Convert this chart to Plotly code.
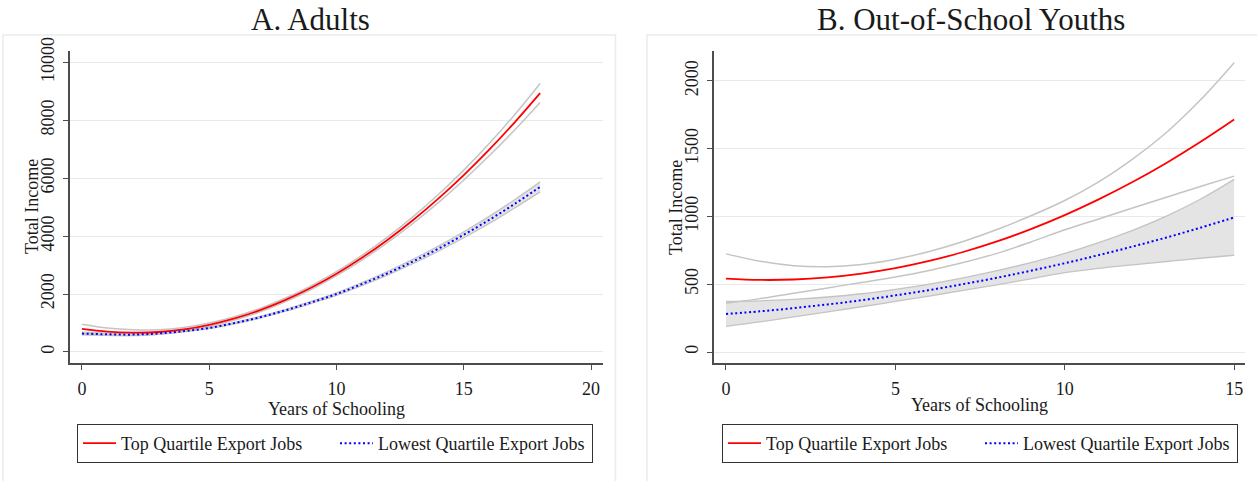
import plotly.graph_objects as go

# ---------------- data ----------------
# Panel A: Adults
years_a = [0, 1, 2, 3, 4, 5, 6, 7, 8, 9, 10, 11, 12, 13, 14, 15, 16, 17, 18]
top_a = [800, 705, 670, 690, 780, 940, 1160, 1446, 1800, 2220, 2704, 3254, 3869, 4550, 5296, 6108, 6985, 7927, 8934]
top_a_hi = [960, 825, 765, 765, 845, 1000, 1220, 1506, 1862, 2285, 2774, 3334, 3964, 4665, 5436, 6278, 7195, 8192, 9270]
top_a_lo = [640, 585, 575, 615, 715, 880, 1100, 1386, 1738, 2155, 2634, 3174, 3774, 4435, 5156, 5938, 6775, 7662, 8612]
low_a = [636, 611, 600, 640, 720, 830, 1000, 1200, 1440, 1710, 2000, 2345, 2716, 3123, 3566, 4046, 4561, 5113, 5700]
low_a_hi = [684, 651, 633, 668, 746, 855, 1026, 1228, 1472, 1747, 2044, 2397, 2778, 3197, 3654, 4150, 4683, 5256, 5873]
low_a_lo = [590, 571, 567, 612, 694, 805, 974, 1172, 1408, 1673, 1956, 2293, 2654, 3049, 3478, 3942, 4439, 4970, 5526]

# Panel B: Out-of-School Youths
years_b = [0, 1, 2, 3, 4, 5, 6, 7, 8, 9, 10, 11, 12, 13, 14, 15]
top_b = [542, 532, 535, 551, 579, 619, 672, 738, 816, 907, 1010, 1126, 1254, 1395, 1549, 1715]
top_b_hi = [724, 670, 637, 629, 645, 684, 742, 816, 904, 1005, 1118, 1256, 1424, 1620, 1859, 2135]
top_b_lo = [360, 394, 433, 473, 513, 554, 602, 660, 728, 812, 902, 982, 1062, 1142, 1221, 1298]
low_b = [281, 300, 324, 351, 382, 418, 457, 501, 548, 600, 655, 715, 778, 845, 917, 993]
low_b_hi = [373, 378, 389, 406, 430, 463, 501, 547, 600, 660, 727, 807, 898, 1003, 1127, 1274]
low_b_lo = [189, 222, 259, 296, 334, 373, 413, 455, 496, 540, 586, 617, 643, 668, 692, 714]

ticks_x_a = [0, 5, 10, 15, 20]
ticks_y_a = [0, 2000, 4000, 6000, 8000, 10000]
ticks_x_b = [0, 5, 10, 15]
ticks_y_b = [0, 500, 1000, 1500, 2000]

legend_top = "Top Quartile Export Jobs"
legend_low = "Lowest Quartile Export Jobs"
title_a = "A. Adults"
title_b = "B. Out-of-School Youths"
x_title = "Years of Schooling"
y_title = "Total Income"

# ---------------- styling ----------------
W, H = 1257, 481
FONT = "Liberation Serif"
TXT = "#1a1a1a"
CI_LINE = "#c4c4c4"
CI_FILL = "#e4e4e4"
RED = "#ff0000"
BLUE = "#0000ff"


def px_x(p):
    return p / W


def px_y(p):
    return 1 - p / H


fig = go.Figure()


def add_panel(xs, top, top_hi, top_lo, low, low_hi, low_lo, xa, ya, legend_name):
    # lowest quartile CI band (filled)
    fig.add_trace(go.Scatter(x=xs, y=low_hi, mode="lines", line=dict(color=CI_LINE, width=1.3, shape="spline"),
                             xaxis=xa, yaxis=ya, showlegend=False, hoverinfo="skip"))
    fig.add_trace(go.Scatter(x=xs, y=low_lo, mode="lines", line=dict(color=CI_LINE, width=1.3, shape="spline"),
                             fill="tonexty", fillcolor=CI_FILL,
                             xaxis=xa, yaxis=ya, showlegend=False, hoverinfo="skip"))
    # top quartile CI (lines only)
    fig.add_trace(go.Scatter(x=xs, y=top_hi, mode="lines", line=dict(color=CI_LINE, width=1.5, shape="spline"),
                             xaxis=xa, yaxis=ya, showlegend=False, hoverinfo="skip"))
    fig.add_trace(go.Scatter(x=xs, y=top_lo, mode="lines", line=dict(color=CI_LINE, width=1.5, shape="spline"),
                             xaxis=xa, yaxis=ya, showlegend=False, hoverinfo="skip"))
    # fitted lines
    fig.add_trace(go.Scatter(x=xs, y=top, mode="lines", name=legend_top,
                             line=dict(color=RED, width=1.8, shape="spline"),
                             xaxis=xa, yaxis=ya, legend=legend_name))
    fig.add_trace(go.Scatter(x=xs, y=low, mode="lines", name=legend_low,
                             line=dict(color=BLUE, width=2, dash="2px,2.6px", shape="spline"),
                             xaxis=xa, yaxis=ya, legend=legend_name))


add_panel(years_a, top_a, top_a_hi, top_a_lo, low_a, low_a_hi, low_a_lo, "x", "y", "legend")
add_panel(years_b, top_b, top_b_hi, top_b_lo, low_b, low_b_hi, low_b_lo, "x2", "y2", "legend2")

axis_common = dict(
    showline=True, linecolor="#4d4d4d", linewidth=1.5, mirror=False,
    ticks="outside", ticklen=5, tickwidth=1.3, tickcolor="#4d4d4d",
    tickfont=dict(family=FONT, size=18, color=TXT),
    zeroline=False, tickformat="d", automargin=False,
)

y_dom = [px_y(363), px_y(51)]

legend_common = dict(
    orientation="h", xanchor="center", y=px_y(424), yanchor="top",
    bordercolor="#333333", borderwidth=1, bgcolor="white",
    font=dict(family=FONT, size=18, color=TXT), entrywidth=209,
    itemwidth=33, traceorder="normal",
)

fig.update_layout(
    width=W, height=H,
    margin=dict(l=0, r=0, t=0, b=0, autoexpand=False),
    paper_bgcolor="white", plot_bgcolor="white",
    font=dict(family=FONT, size=18, color=TXT),
    xaxis=dict(domain=[px_x(70), px_x(603)], range=[-0.47, 20.47], tickvals=ticks_x_a,
               showgrid=False, anchor="y", ticklabelstandoff=4,
               title=dict(text=x_title, font=dict(family=FONT, size=18, color=TXT), standoff=0),
               **axis_common),
    yaxis=dict(domain=y_dom, range=[-380, 10390], tickvals=ticks_y_a,
               showgrid=True, gridcolor="#e9e9e9", gridwidth=1.3, tickangle=-90, anchor="x",
               ticklabelstandoff=2, **axis_common),
    xaxis2=dict(domain=[px_x(714), px_x(1245)], range=[-0.354, 15.32], tickvals=ticks_x_b,
                showgrid=False, anchor="y2", ticklabelstandoff=4,
                title=dict(text=x_title, font=dict(family=FONT, size=18, color=TXT), standoff=0),
                **axis_common),
    yaxis2=dict(domain=y_dom, range=[-81, 2221], tickvals=ticks_y_b,
                showgrid=True, gridcolor="#e9e9e9", gridwidth=1.3, tickangle=-90, anchor="x2",
                ticklabelstandoff=2, **axis_common),
    legend=dict(x=px_x(335), **legend_common),
    legend2=dict(x=px_x(980), **legend_common),
    shapes=[
        dict(type="rect", xref="paper", yref="paper", x0=px_x(3), x1=px_x(615.5), y0=px_y(490), y1=px_y(35),
             line=dict(color="#ebebeb", width=1.5), fillcolor="rgba(0,0,0,0)", layer="below"),
        dict(type="rect", xref="paper", yref="paper", x0=px_x(647), x1=px_x(1268), y0=px_y(490), y1=px_y(35),
             line=dict(color="#ebebeb", width=1.5), fillcolor="rgba(0,0,0,0)", layer="below"),
    ],
    annotations=[
        dict(text=title_a, x=px_x(310), y=1, xref="paper", yref="paper",
             xanchor="center", yanchor="top", showarrow=False,
             font=dict(family=FONT, size=31, color=TXT)),
        dict(text=title_b, x=px_x(971), y=1, xref="paper", yref="paper",
             xanchor="center", yanchor="top", showarrow=False,
             font=dict(family=FONT, size=31, color=TXT)),
        dict(text=y_title, x=px_x(32), y=px_y(207), xref="paper", yref="paper",
             xanchor="center", yanchor="middle", showarrow=False, textangle=-90,
             font=dict(family=FONT, size=18, color=TXT)),
        dict(text=y_title, x=px_x(676), y=px_y(207), xref="paper", yref="paper",
             xanchor="center", yanchor="middle", showarrow=False, textangle=-90,
             font=dict(family=FONT, size=18, color=TXT)),
    ],
)

fig.write_html("out.html")
